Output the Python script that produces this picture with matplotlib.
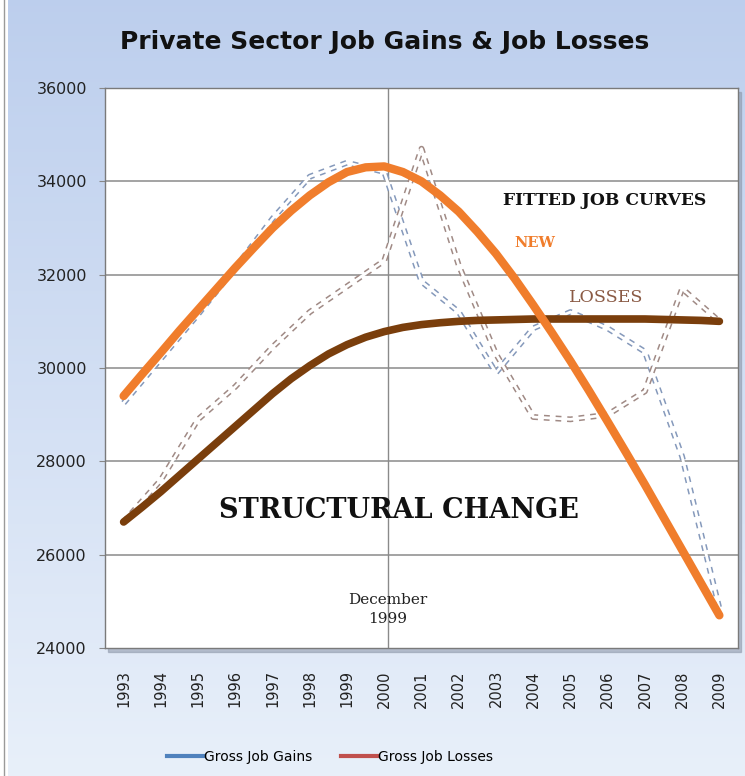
import numpy as np
import matplotlib.pyplot as plt
from matplotlib.lines import Line2D
from matplotlib.patches import Rectangle

years = ['1993', '1994', '1995', '1996', '1997', '1998', '1999', '2000', '2001',
         '2002', '2003', '2004', '2005', '2006', '2007', '2008', '2009']
gross_gains = [29250, 30200, 31150, 32150, 33200, 34100, 34400, 34200, 31850,
               31200, 29900, 30850, 31200, 30850, 30350, 28100, 24850]
gross_losses = [26700, 27600, 28900, 29600, 30450, 31200, 31750, 32300, 34700,
                32200, 30300, 28950, 28900, 29000, 29500, 31700, 31000]
# fitted trend curves, read every half year
fit_new = [29400, 29870, 30330, 30800, 31250, 31700, 32150, 32580, 33000, 33370,
           33700, 33980, 34200, 34300, 34320, 34200, 34000, 33700, 33350, 32920,
           32450, 31920, 31350, 30760, 30150, 29510, 28850, 28180, 27500, 26800,
           26100, 25400, 24700]
fit_losses = [26700, 27020, 27350, 27700, 28050, 28400, 28750, 29100, 29450, 29770,
              30050, 30300, 30500, 30660, 30780, 30870, 30930, 30970, 31000, 31020,
              31030, 31040, 31050, 31050, 31050, 31050, 31050, 31050, 31050, 31040,
              31030, 31020, 31000]
y_ticks = [24000, 26000, 28000, 30000, 32000, 34000, 36000]

W, H = 745, 776
fig = plt.figure(figsize=(W / 100, H / 100), dpi=100)

# blue gradient backdrop
bg = fig.add_axes([8 / W, 0, 1 - 8 / W, 1], zorder=-10)
top = np.array([0.74, 0.81, 0.93])
bot = np.array([0.91, 0.94, 0.98])
t = np.linspace(0, 1, 256)[:, None]
grad = (top * (1 - t) + bot * t)[:, None, :].repeat(2, axis=1)
bg.imshow(grad, aspect='auto', extent=[0, 1, 0, 1])
bg.axis('off')
fig.add_artist(Line2D([4 / W, 4 / W], [0, 1], color='#9a9a9a', lw=1))

x0, x1, yb, yt = 105, 738, 648, 88
pos = [x0 / W, 1 - yb / H, (x1 - x0) / W, (yb - yt) / H]

# drop shadow behind the plot area
fig.add_artist(Rectangle((pos[0] + 3 / W, pos[1] - 4 / H), pos[2], pos[3],
                         transform=fig.transFigure, color='#8c96a8', alpha=0.55, zorder=-5))

ax = fig.add_axes(pos)
ax.set_facecolor('white')
x = np.arange(len(years))
x_fit = np.arange(len(fit_new)) * 0.5

for yv in y_ticks[1:-1]:
    ax.axhline(yv, color='#8a8a8a', lw=1.1, zorder=1)
ax.axvline(7.1, color='#8a8a8a', lw=1.0, zorder=1)

# raw series: dotted double outline
ax.plot(x, gross_gains, color='#8599bb', lw=4.2, ls=(0, (1, 1)), zorder=2)
ax.plot(x, gross_gains, color='white', lw=2.0, zorder=2)
ax.plot(x, gross_losses, color='#a08a85', lw=4.2, ls=(0, (1, 1)), zorder=2)
ax.plot(x, gross_losses, color='white', lw=2.0, zorder=2)

# fitted curves
ax.plot(x_fit, fit_losses, color='#7a3e0c', lw=5.5, solid_capstyle='round',
        solid_joinstyle='round', zorder=3)
ax.plot(x_fit, fit_new, color='#f07d2c', lw=6.0, solid_capstyle='round',
        solid_joinstyle='round', zorder=4)

ax.set_xlim(-0.5, len(years) - 0.5)
ax.set_ylim(24000, 36000)
ax.set_yticks(y_ticks)
ax.set_yticklabels([str(v) for v in y_ticks], fontsize=11.5, color='#222222')
ax.set_xticks(x)
ax.set_xticklabels(years, rotation=90, fontsize=10.5, color='#222222')
ax.tick_params(axis='y', length=4, color='#888888', pad=9)
ax.tick_params(axis='x', length=0, pad=16)
for s in ax.spines.values():
    s.set_color('#7a7a7a')
    s.set_linewidth(1.0)

ax.text(12.93, 33600, 'FITTED JOB CURVES', fontsize=12.3, fontweight='bold',
        family='DejaVu Serif', color='#111111', ha='center', va='center', zorder=5)
ax.text(11.05, 32680, 'NEW', fontsize=10.5, fontweight='bold', family='DejaVu Serif',
        color='#f07d2c', ha='center', va='center', zorder=5)
ax.text(12.95, 31520, 'LOSSES', fontsize=12.5, family='DejaVu Serif',
        color='#8a5a44', ha='center', va='center', zorder=5)
ax.text(7.4, 26950, 'STRUCTURAL CHANGE', fontsize=19.5, fontweight='bold',
        family='DejaVu Serif', color='#111111', ha='center', va='center', zorder=5)
ax.text(7.1, 24830, 'December\n1999', fontsize=11, family='DejaVu Serif',
        color='#222222', ha='center', va='center', linespacing=1.45, zorder=5)

fig.text(385 / W, 1 - 42 / H, 'Private Sector Job Gains & Job Losses',
         fontsize=18, fontweight='bold', ha='center', va='center', color='#111111')

handles = [Line2D([], [], color='#4f81bd', lw=3),
           Line2D([], [], color='#c0504d', lw=3)]
fig.legend(handles, ['Gross Job Gains', 'Gross Job Losses'], loc='center',
           bbox_to_anchor=(330 / W, 1 - 757 / H), ncol=2, frameon=False,
           fontsize=10, handlelength=2.6, handletextpad=0.1, columnspacing=2.0)

fig.savefig('out.png', dpi=100)
